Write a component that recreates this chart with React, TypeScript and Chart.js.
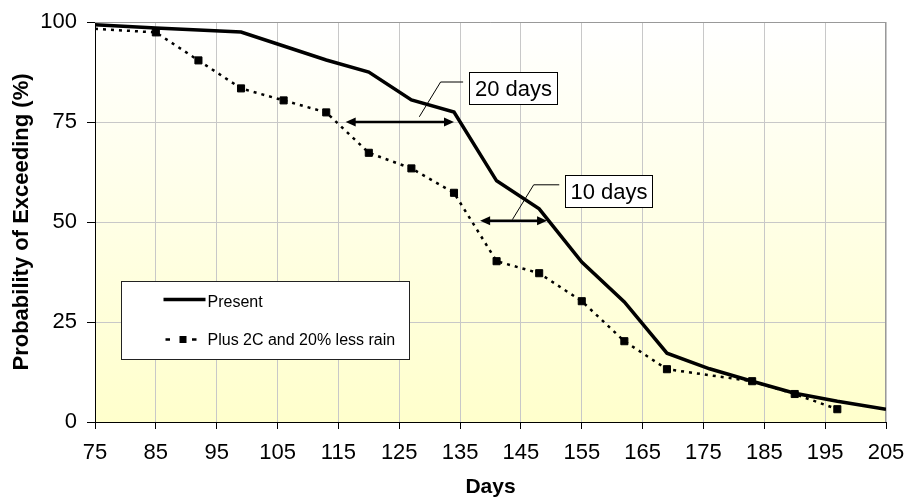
import React, { useEffect, useRef } from "react";
import { Chart, registerables } from "chart.js";

Chart.register(...registerables);

// ---- data ----
const xTicks = [75, 85, 95, 105, 115, 125, 135, 145, 155, 165, 175, 185, 195, 205];
const yTicks = [0, 25, 50, 75, 100];

const presentDays = [75, 85, 99, 106, 113, 120, 127, 134, 141, 148, 155, 162, 169, 176, 183, 190, 197, 205];
const presentValues = [99.3, 98.5, 97.5, 94, 90.5, 87.5, 80.5, 77.5, 60.3, 53.3, 40, 30, 17.2, 13.3, 10.2, 7.2, 5.2, 3.2];

const plusDays = [75, 85, 92, 99, 106, 113, 120, 127, 134, 141, 148, 155, 162, 169, 183, 190, 197];
const plusValues = [98.3, 97.4, 90.4, 83.4, 80.4, 77.4, 67.3, 63.4, 57.3, 40.2, 37.2, 30.2, 20.2, 13.2, 10.2, 7, 3.2];

const seriesLabels = ["Present", "Plus 2C and 20% less rain"];
const xTitle = "Days";
const yTitle = "Probability of Exceeding (%)";

// double-headed arrows (data units)
const arrowFrom = [116.2, 138.3];
const arrowTo = [134.0, 149.3];
const arrowY = [75, 50.3];

// callouts (data units)
const calloutText = ["20 days", "10 days"];
const calloutLeaderX = [
  [128.3, 131.8, 135.5],
  [143.6, 147.1, 151.3],
];
const calloutLeaderY = [
  [76.3, 85.0, 85.0],
  [50.6, 59.3, 59.3],
];
const calloutBoxX = [
  [136.5, 150.9],
  [152.3, 166.6],
];
const calloutBoxY = [
  [87.6, 79.5],
  [61.8, 53.7],
];

// legend box (data units)
const legendBoxX = [79.3, 126.6];
const legendBoxY = [35.25, 15.75];

const FONT = "'Liberation Sans', Arial, Helvetica, sans-serif";

const bgPlugin = {
  id: "bgGradient",
  beforeDraw(chart: any) {
    const { ctx, chartArea: a } = chart;
    const g = ctx.createLinearGradient(0, a.top, 0, a.bottom);
    g.addColorStop(0, "#ffffff");
    g.addColorStop(1, "#ffffcc");
    ctx.save();
    ctx.fillStyle = g;
    ctx.fillRect(a.left, a.top, a.right - a.left, a.bottom - a.top);
    ctx.restore();
  },
  beforeDatasetsDraw(chart: any) {
    const { ctx, chartArea: a } = chart;
    ctx.save();
    ctx.strokeStyle = "#999999";
    ctx.lineWidth = 1;
    ctx.beginPath();
    ctx.moveTo(a.left, Math.round(a.top) + 0.5);
    ctx.lineTo(a.right, Math.round(a.top) + 0.5);
    ctx.moveTo(Math.round(a.right) - 0.5, a.top);
    ctx.lineTo(Math.round(a.right) - 0.5, a.bottom);
    ctx.stroke();
    ctx.restore();
  },
};

function arrowHead(ctx: CanvasRenderingContext2D, x: number, y: number, dir: number) {
  const len = 10;
  const hw = 4.5;
  ctx.beginPath();
  ctx.moveTo(x, y);
  ctx.lineTo(x - dir * len, y - hw);
  ctx.lineTo(x - dir * len, y + hw);
  ctx.closePath();
  ctx.fill();
}

const annotationPlugin = {
  id: "annotations",
  afterDatasetsDraw(chart: any) {
    const { ctx } = chart;
    const xs = chart.scales.x;
    const ys = chart.scales.y;
    ctx.save();
    ctx.fillStyle = "#000";
    ctx.strokeStyle = "#000";
    // arrows
    for (let i = 0; i < arrowFrom.length; i++) {
      const x1 = xs.getPixelForValue(arrowFrom[i]);
      const x2 = xs.getPixelForValue(arrowTo[i]);
      const y = ys.getPixelForValue(arrowY[i]);
      ctx.lineWidth = 2.5;
      ctx.beginPath();
      ctx.moveTo(x1 + 6, y);
      ctx.lineTo(x2 - 6, y);
      ctx.stroke();
      arrowHead(ctx, x1, y, -1);
      arrowHead(ctx, x2, y, 1);
    }
    // callouts
    for (let i = 0; i < calloutText.length; i++) {
      ctx.lineWidth = 1;
      ctx.beginPath();
      calloutLeaderX[i].forEach((vx, j) => {
        const px = xs.getPixelForValue(vx);
        const py = ys.getPixelForValue(calloutLeaderY[i][j]);
        if (j === 0) ctx.moveTo(px, py);
        else ctx.lineTo(px, py);
      });
      ctx.stroke();
      const bx1 = Math.round(xs.getPixelForValue(calloutBoxX[i][0])) + 0.5;
      const bx2 = Math.round(xs.getPixelForValue(calloutBoxX[i][1])) + 0.5;
      const by1 = Math.round(ys.getPixelForValue(calloutBoxY[i][0])) + 0.5;
      const by2 = Math.round(ys.getPixelForValue(calloutBoxY[i][1])) + 0.5;
      ctx.fillStyle = "#ffffff";
      ctx.fillRect(bx1, by1, bx2 - bx1, by2 - by1);
      ctx.strokeRect(bx1, by1, bx2 - bx1, by2 - by1);
      ctx.fillStyle = "#000";
      ctx.font = `22px ${FONT}`;
      ctx.textAlign = "center";
      ctx.textBaseline = "middle";
      ctx.fillText(calloutText[i], (bx1 + bx2) / 2, (by1 + by2) / 2 + 1);
    }
    ctx.restore();
  },
  afterDraw(chart: any) {
    const { ctx } = chart;
    const xs = chart.scales.x;
    const ys = chart.scales.y;
    const lx = Math.round(xs.getPixelForValue(legendBoxX[0])) + 0.5;
    const rx = Math.round(xs.getPixelForValue(legendBoxX[1])) + 0.5;
    const ty = Math.round(ys.getPixelForValue(legendBoxY[0])) + 0.5;
    const by = Math.round(ys.getPixelForValue(legendBoxY[1])) + 0.5;
    ctx.save();
    ctx.fillStyle = "#ffffff";
    ctx.fillRect(lx, ty, rx - lx, by - ty);
    ctx.strokeStyle = "#222";
    ctx.lineWidth = 1;
    ctx.strokeRect(lx, ty, rx - lx, by - ty);

    // row 1: solid line
    const r1 = ty + 18;
    ctx.strokeStyle = "#000";
    ctx.lineWidth = 3.5;
    ctx.beginPath();
    ctx.moveTo(lx + 42, r1);
    ctx.lineTo(lx + 84, r1);
    ctx.stroke();
    ctx.fillStyle = "#000";
    ctx.font = `16px ${FONT}`;
    ctx.textAlign = "left";
    ctx.textBaseline = "middle";
    ctx.fillText(seriesLabels[0], lx + 86, r1 + 3);

    // row 2: dotted + square
    const r2 = ty + 58;
    ctx.lineWidth = 2.5;
    ctx.beginPath();
    ctx.moveTo(lx + 44, r2);
    ctx.lineTo(lx + 48.5, r2);
    ctx.moveTo(lx + 70.5, r2);
    ctx.lineTo(lx + 75, r2);
    ctx.stroke();
    ctx.fillRect(lx + 58, r2 - 3.5, 7, 7);
    ctx.fillText(seriesLabels[1], lx + 86, r2 + 1);
    ctx.restore();
  },
};

export default function App() {
  const canvasRef = useRef<HTMLCanvasElement | null>(null);

  useEffect(() => {
    document.body.style.margin = "0";
    const canvas = canvasRef.current;
    if (!canvas) return;
    const presentData = presentDays.map((d, i) => ({ x: d, y: presentValues[i] }));
    const plusData = plusDays.map((d, i) => ({ x: d, y: plusValues[i] }));

    const chart = new Chart(canvas, {
      type: "line",
      data: {
        datasets: [
          {
            label: seriesLabels[1],
            data: plusData,
            borderColor: "#000",
            backgroundColor: "#000",
            borderWidth: 2.5,
            borderDash: [3, 5],
            tension: 0,
            fill: false,
            pointStyle: "rect",
            pointRadius: plusDays.map((_, i) => (i === 0 ? 0 : 5)),
            pointBorderWidth: 1,
            pointBackgroundColor: "#000",
            pointBorderColor: "#000",
          },
          {
            label: seriesLabels[0],
            data: presentData,
            borderColor: "#000",
            borderWidth: 3.5,
            tension: 0,
            fill: false,
            pointRadius: 0,
            borderJoinStyle: "miter",
          },
        ],
      },
      options: {
        responsive: false,
        animation: false,
        devicePixelRatio: 1,
        layout: { padding: { left: 0, top: 22, right: 20, bottom: 0 } },
        plugins: {
          legend: { display: false },
          tooltip: { enabled: false },
        },
        scales: {
          x: {
            type: "linear",
            min: 75,
            max: 205,
            afterBuildTicks: (scale: any) => {
              scale.ticks = xTicks.map((v) => ({ value: v }));
            },
            afterFit: (scale: any) => {
              scale.height = 78;
              scale.paddingLeft = 0;
              scale.paddingRight = 0;
            },
            ticks: {
              color: "#000",
              font: { family: FONT, size: 22 },
              padding: 11,
              maxRotation: 0,
              autoSkip: false,
            },
            grid: {
              color: "#c8c8c8",
              lineWidth: 1,
              tickColor: "#000",
              tickLength: 7,
              drawTicks: true,
            },
            border: { display: true, color: "#000", width: 1 },
            title: {
              display: true,
              text: xTitle,
              color: "#000",
              font: { family: FONT, size: 21, weight: "bold" },
              padding: { top: 0, bottom: 0 },
            },
          },
          y: {
            type: "linear",
            min: 0,
            max: 100,
            afterBuildTicks: (scale: any) => {
              scale.ticks = yTicks.map((v) => ({ value: v }));
            },
            afterFit: (scale: any) => {
              scale.width = 95;
              scale.paddingTop = 0;
              scale.paddingBottom = 0;
            },
            ticks: {
              color: "#000",
              font: { family: FONT, size: 22 },
              padding: 10,
              autoSkip: false,
            },
            grid: {
              color: "#c8c8c8",
              lineWidth: 1,
              tickColor: "#000",
              tickLength: 8,
              drawTicks: true,
            },
            border: { display: true, color: "#000", width: 1 },
            title: {
              display: true,
              text: yTitle,
              color: "#000",
              font: { family: FONT, size: 22, weight: "bold" },
              padding: { top: 9, bottom: 0 },
            },
          },
        },
      },
      plugins: [bgPlugin, annotationPlugin],
    } as any);

    return () => chart.destroy();
  }, []);

  return (
    <div style={{ width: 906, height: 500 }}>
      <canvas ref={canvasRef} width={906} height={500} style={{ display: "block" }} />
    </div>
  );
}
